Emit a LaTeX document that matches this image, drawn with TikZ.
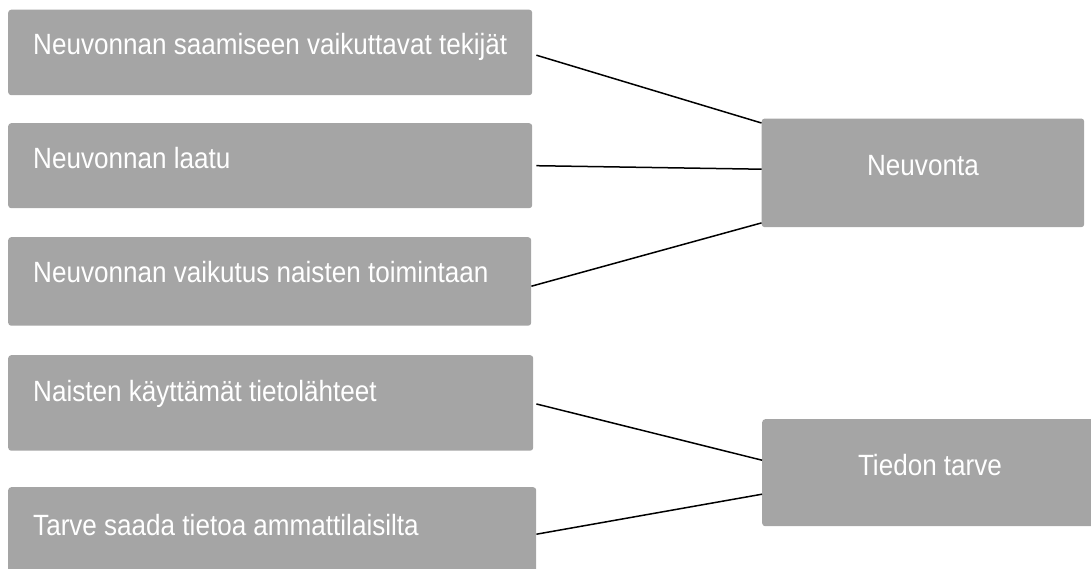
\documentclass[tikz,border=0pt]{standalone}
\usepackage{fontspec}
\setmainfont[FakeStretch=0.89]{Liberation Sans}
\usetikzlibrary{calc}
\definecolor{boxgray}{HTML}{A5A5A5}
\begin{document}
\begin{tikzpicture}[x=1pt,y=-1pt,
  box/.style={fill=boxgray, rounded corners=3pt, inner sep=0pt, anchor=north west},
  lbl/.style={text=white, font=\fontsize{29.3}{35}\selectfont, inner sep=0pt},
  link/.style={line width=1.5pt, black}]
  \useasboundingbox (0,0) rectangle (1091,568);
  \clip (0,0) rectangle (1091,568);

  % left-hand boxes
  \node[box, minimum width=524pt, minimum height=85.5pt] (b1) at (8,9.5) {};
  \node[box, minimum width=524pt, minimum height=85pt]   (b2) at (8,123) {};
  \node[box, minimum width=523pt, minimum height=88.5pt] (b3) at (8,237) {};
  \node[box, minimum width=525pt, minimum height=95.5pt] (b4) at (8,355) {};
  \node[box, minimum width=528pt, minimum height=94pt]   (b5) at (8,487) {};

  \node[lbl, anchor=base west] (t1) at ($(b1.north west)+(25,44.5)$) {Neuvonnan saamiseen vaikuttavat tekijät};
  \node[lbl, anchor=base west] (t2) at ($(b2.north west)+(25,45)$) {Neuvonnan laatu};
  \node[lbl, anchor=base west] (t3) at ($(b3.north west)+(25,45.5)$) {Neuvonnan vaikutus naisten toimintaan};
  \node[lbl, anchor=base west] (t4) at ($(b4.north west)+(25,46.5)$) {Naisten käyttämät tietolähteet};
  \node[lbl, anchor=base west] (t5) at ($(b5.north west)+(25,48)$) {Tarve saada tietoa ammattilaisilta};

  % right-hand boxes
  \node[box, minimum width=322.5pt, minimum height=108.7pt] (nv) at (761.5,118.3) {};
  \node[box, minimum width=340pt, minimum height=107pt] (tt) at (762,419) {};

  \node[lbl, anchor=base] (tnv) at ($(nv.north)+(0,56.7)$) {Neuvonta};
  \node[lbl, anchor=base] (ttt) at ($(tt.north west)+(168,56)$) {Tiedon tarve};

  % connectors
  \draw[link] ([xshift=4pt,yshift=-2.75pt]b1.east) -- ([yshift=-4.7pt]nv.north west);
  \draw[link] ([xshift=4pt]b2.east) -- ([yshift=3.65pt]nv.west);
  \draw[link] ([yshift=-4.75pt]b3.east) -- ([yshift=4.5pt]nv.south west);
  \draw[link] ([xshift=3pt,yshift=-1pt]b4.east) -- ([yshift=12.5pt]tt.west);
  \draw[link] (b5.east) -- ([yshift=-21.5pt]tt.west);
\end{tikzpicture}
\end{document}
